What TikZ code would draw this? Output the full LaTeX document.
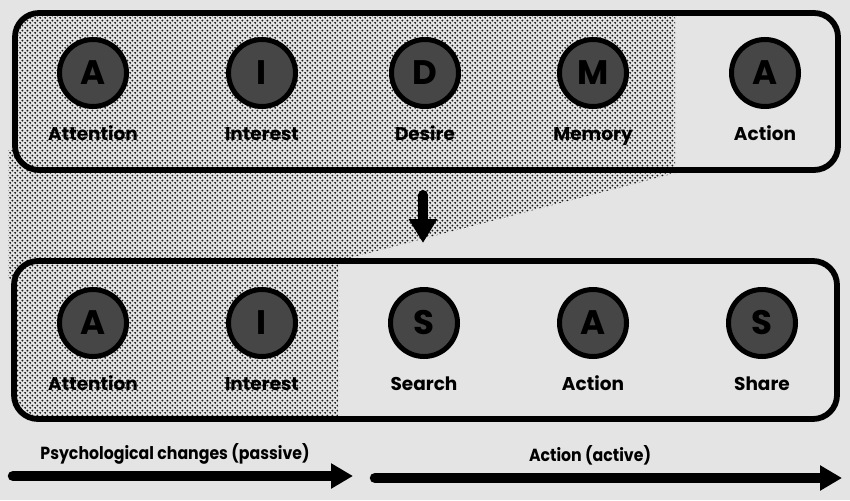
\documentclass[tikz,border=0pt]{standalone}
\usepackage{fontspec}
\setmainfont{Poppins}
\newfontfamily\condfont{Poppins}[FakeStretch=0.9]
\usetikzlibrary{patterns.meta,arrows.meta}
\definecolor{bg}{HTML}{E4E4E4}
\definecolor{disc}{HTML}{464646}
\tikzdeclarepattern{
  name=halftone, type=uncolored,
  bottom left={(0pt,0pt)}, top right={(4.8pt,4.8pt)},
  tile size={(4.8pt,4.8pt)},
  code={\fill (1.2pt,1.2pt) circle (1.05pt); \fill (3.6pt,3.6pt) circle (1.05pt);}
}
\tikzset{
  stage/.style={circle, draw=black, line width=5pt, fill=disc, minimum size=67pt,
    inner sep=0pt, font=\bfseries\fontsize{34}{34}\selectfont},
  lbl/.style={font=\bfseries\fontsize{18.5}{18.5}\selectfont, inner sep=0pt, anchor=base},
  sublbl/.style={font=\condfont\bfseries\fontsize{17.5}{17.5}\selectfont, inner sep=0pt, anchor=base},
  frame/.style={line width=5.8pt, rounded corners=24pt},
  dots/.style={pattern=halftone, pattern color=black!90},
  fatarrow/.style={line width=10.5pt, line cap=round, -{Triangle[width=24pt,length=22pt]}},
}
\begin{document}
\begin{tikzpicture}[x=1pt,y=-1pt]
\fill[bg] (0,0) rectangle (850,500);
\useasboundingbox (0,0) rectangle (850,500);
% halftone area (one fill, clipped to the union of regions)
\begin{scope}
  \clip [rounded corners=24pt] (15,13) rectangle (838,170)
        (14,261) rectangle (837,419)
        [sharp corners] (8,150) rectangle (687,280);
  \fill[dots] (0,0) -- (675,0) -- (675,170) -- (687,170) -- (338,261) -- (338,500) -- (0,500) -- cycle;
\end{scope}
% frames
\draw[frame] (15,13) rectangle (838,170);
\draw[frame] (14,261) rectangle (837,419);
% top row
\node[stage] (t1) at (93,73) {A};
\node[stage] (t2) at (262,73) {I};
\node[stage] (t3) at (425,73) {D};
\node[stage] (t4) at (593,73) {M};
\node[stage] (t5) at (765,73) {A};
\node[lbl] (lt1) at (93,140) {Attention};
\node[lbl] (lt2) at (262,140) {Interest};
\node[lbl] (lt3) at (425,140) {Desire};
\node[lbl] (lt4) at (593,140) {Memory};
\node[lbl] (lt5) at (765,140) {Action};
% bottom row
\node[stage] (b1) at (93,323) {A};
\node[stage] (b2) at (262,323) {I};
\node[stage] (b3) at (424,323) {S};
\node[stage] (b4) at (593,323) {A};
\node[stage] (b5) at (762,323) {S};
\node[lbl] (lb1) at (93,390) {Attention};
\node[lbl] (lb2) at (262,390) {Interest};
\node[lbl] (lb3) at (424,390) {Search};
\node[lbl] (lb4) at (593,390) {Action};
\node[lbl] (lb5) at (762,390) {Share};
% down arrow
\coordinate (dtop) at (423,195);
\coordinate (dtip) at (423,243);
\draw[line width=10pt, line cap=round, -{Triangle[width=27pt,length=24pt]}] (dtop) -- (dtip);
% bottom arrows
\coordinate (p1) at (13,476);
\coordinate (p2) at (353,476);
\coordinate (q1) at (375,478);
\coordinate (q2) at (842,478);
\draw[fatarrow] (p1) -- (p2);
\draw[fatarrow] (q1) -- (q2);
\node[sublbl] (lp) at (175,459) {Psychological changes (passive)};
\node[sublbl] (lq) at (590,461) {Action (active)};
\end{tikzpicture}
\end{document}
